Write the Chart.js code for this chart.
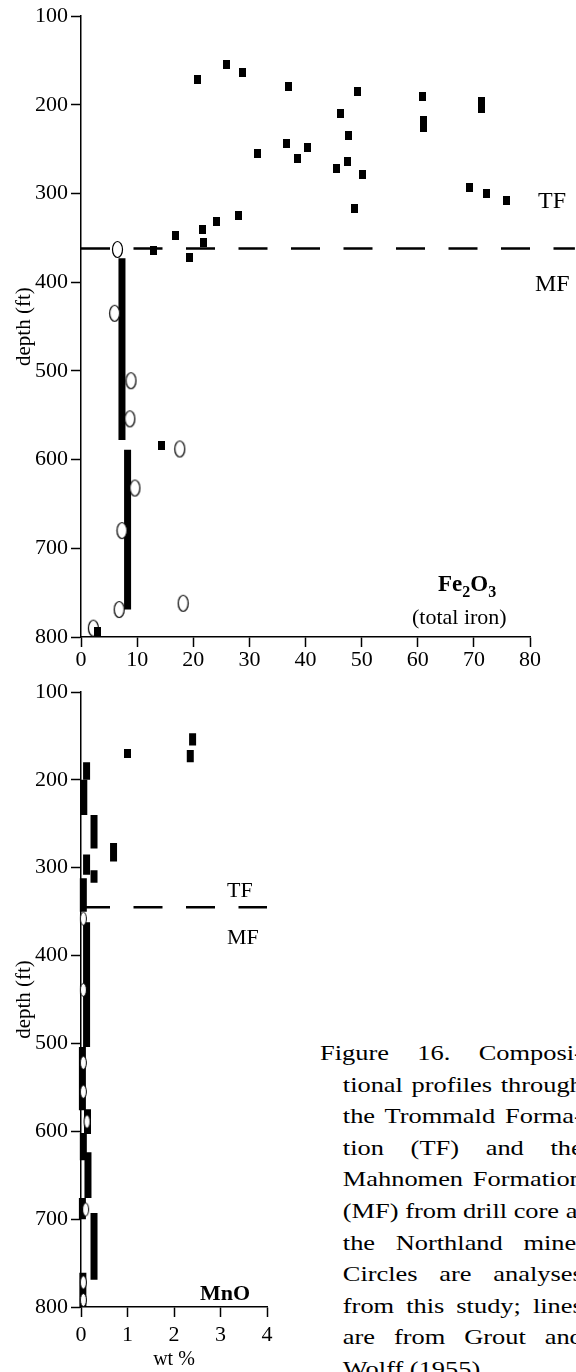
<!DOCTYPE html>
<html>
<head>
<meta charset="utf-8">
<script src="https://cdn.jsdelivr.net/npm/chart.js@4.4.1/dist/chart.umd.min.js"></script>
<style>
  body { margin: 0; background: #fff; width: 576px; height: 1372px; overflow: hidden; position: relative;
         font-family: "Liberation Serif", "Times New Roman", serif; color: #000; }
  canvas { position: absolute; left: 0; }
  #feChart { top: 0; }
  #mnChart { top: 670px; }
  .lbl { position: absolute; white-space: nowrap; line-height: 1; }
  .bold { font-weight: bold; }
  .caption { position: absolute; left: 320px; top: 1037px; width: 219px; font-size: 22px; line-height: 31.6px;
             transform: scaleX(1.2); transform-origin: 0 0; }
  .caption div { padding-left: 19px; text-align: justify; text-align-last: justify; white-space: nowrap; }
  .caption div.first { padding-left: 0; }
  .caption div.last { text-align-last: left; }
</style>
</head>
<body>
<canvas id="feChart" width="576" height="680"></canvas>
<canvas id="mnChart" width="300" height="702"></canvas>

<div class="lbl" style="left:538px; top:188px; font-size:24px;">TF</div>
<div class="lbl" style="left:535px; top:271px; font-size:24px;">MF</div>
<div class="lbl bold" style="left:438px; top:572px; font-size:23px;">Fe<sub style="font-size:16px">2</sub>O<sub style="font-size:16px">3</sub></div>
<div class="lbl" style="left:412px; top:606px; font-size:22px;">(total iron)</div>
<div class="lbl" style="left:227px; top:879px; font-size:22px;">TF</div>
<div class="lbl" style="left:227px; top:926px; font-size:22px;">MF</div>
<div class="lbl bold" style="left:200px; top:1282px; font-size:22px;">MnO</div>

<div class="caption">
  <div class="first">Figure 16. Composi-</div>
  <div>tional profiles through</div>
  <div>the Trommald Forma-</div>
  <div>tion (TF) and the</div>
  <div>Mahnomen Formation</div>
  <div>(MF) from drill core at</div>
  <div>the Northland mine.</div>
  <div>Circles are analyses</div>
  <div>from this study; lines</div>
  <div>are from Grout and</div>
  <div class="last">Wolff (1955).</div>
</div>

<script>
const serif = "'Liberation Serif', 'Times New Roman', serif";

// ---- Fe2O3 panel (wt %, depth in ft) ----
// filled squares
const feSquareFe    = [20.7, 26.0, 28.8, 36.9, 31.5, 36.7, 38.5, 40.4, 49.2, 46.3, 47.6, 47.4, 45.6, 50.1, 48.8,
                       60.8, 61.0, 61.0, 71.3, 71.3, 69.2, 72.2, 75.8, 28.0, 24.2, 21.7, 16.9, 21.9, 13.0, 19.3, 14.4, 2.9];
const feSquareDepth = [171, 155, 163, 179, 255, 243, 261, 248, 185, 210, 234, 264, 272, 278, 317,
                       190, 218, 226, 196, 204, 293, 300, 308, 325, 332, 340, 347, 355, 364, 372, 584, 794];
// open circles (this study)
const feCircleFe    = [6.5, 6.0, 8.9, 8.7, 17.6, 9.6, 7.3, 6.8, 18.2, 2.2];
const feCircleDepth = [363, 435, 511, 554, 588, 632, 680, 769, 762, 790];
// thick lines (Grout and Wolff 1955)
const feLineFe     = [7.3, 8.3];
const feLineTop    = [373, 589];
const feLineBottom = [578, 769];
const feContactDepth = 362;
const feContactEnd = 88;
const feTicksX = [0, 10, 20, 30, 40, 50, 60, 70, 80];

// ---- MnO panel ----
const mnLineMn     = [2.4, 2.35, 1.0, 0.12, 0.06, 0.28, 0.7, 0.12, 0.28, 0.05, 0.12, 0.03, 0.14, 0.05, 0.15, 0.03, 0.28, 0.04];
const mnLineTop    = [147, 166, 165, 180, 200, 240, 272, 285, 303, 312, 362, 504, 575, 602, 624, 676, 693, 761];
const mnLineBottom = [161, 180, 175, 200, 240, 278, 293, 308, 317, 350, 504, 576, 603, 633, 676, 700, 769, 800];
const mnCircleMn    = [0.05, 0.05, 0.05, 0.05, 0.13, 0.1, 0.05, 0.05];
const mnCircleDepth = [358, 439, 522, 555, 589, 689, 772, 792];
const mnContactDepth = 345;
const mnContactEnd = 4;
const mnTicksX = [0, 1, 2, 3, 4];

const depthTicks = [100, 200, 300, 400, 500, 600, 700, 800];

function oval(w, h, lw) {
  const c = document.createElement('canvas');
  c.width = w + 3; c.height = h + 3;
  const g = c.getContext('2d');
  g.beginPath();
  g.ellipse(c.width / 2, c.height / 2, w / 2, h / 2, 0, 0, Math.PI * 2);
  g.fillStyle = '#fff'; g.fill();
  g.lineWidth = lw; g.strokeStyle = '#000'; g.stroke();
  return c;
}
function block(w, h) {
  const c = document.createElement('canvas');
  c.width = w; c.height = h;
  const g = c.getContext('2d');
  g.fillStyle = '#000'; g.fillRect(0, 0, w, h);
  return c;
}

function segments(xs, tops, bottoms, width) {
  return xs.map((x, i) => ({
    type: 'line',
    data: [{ x: x, y: tops[i] }, { x: x, y: bottoms[i] }],
    borderColor: '#000', borderWidth: width, borderCapStyle: 'butt',
    pointRadius: 0, showLine: true, clip: false, order: 2
  }));
}
function contact(depth, end) {
  return {
    type: 'line',
    data: [{ x: 0, y: depth }, { x: end, y: depth }],
    borderColor: '#000', borderWidth: 2.5, borderDash: [29, 23.5],
    pointRadius: 0, showLine: true, clip: false, order: 3
  };
}
function points(xs, ys, style) {
  return {
    type: 'scatter',
    data: xs.map((x, i) => ({ x: x, y: ys[i] })),
    pointStyle: style, pointRadius: 5, clip: false, order: 0
  };
}

function depthAxis(titlePad) {
  return {
    type: 'linear', reverse: true, min: 100, max: 800,
    afterBuildTicks: s => { s.ticks = depthTicks.map(v => ({ value: v })); },
    ticks: { color: '#000', font: { family: serif, size: 22 }, padding: 3 },
    grid: { drawOnChartArea: false, drawTicks: true, tickLength: 10, tickColor: '#000', tickWidth: 1.5 },
    border: { color: '#000', width: 1.5 },
    title: { display: true, text: 'depth (ft)', color: '#000', font: { family: serif, size: 21 },
             padding: { top: titlePad, bottom: 0 } },
    afterFit: s => { s.width = 81; }
  };
}
function valueAxis(max, ticks, height, pad, title) {
  return {
    type: 'linear', min: 0, max: max,
    afterBuildTicks: s => { s.ticks = ticks.map(v => ({ value: v })); },
    ticks: { color: '#000', font: { family: serif, size: 22 }, padding: pad, maxRotation: 0 },
    grid: { drawOnChartArea: false, drawTicks: true, tickLength: 10, tickColor: '#000', tickWidth: 1.5 },
    border: { color: '#000', width: 1.5 },
    title: title ? { display: true, text: title, color: '#000', font: { family: serif, size: 20 }, padding: { top: 0, bottom: 0 } }
                 : { display: false },
    afterFit: s => { s.height = height; }
  };
}

const squareStyle = block(7, 9);
const feOval = oval(10, 16, 1.2);
const mnOval = oval(6, 13, 1.0);

new Chart(document.getElementById('feChart'), {
  type: 'scatter',
  data: {
    datasets: [
      contact(feContactDepth, feContactEnd),
      ...segments(feLineFe, feLineTop, feLineBottom, 7),
      points(feSquareFe, feSquareDepth, squareStyle),
      points(feCircleFe, feCircleDepth, feOval)
    ]
  },
  options: {
    responsive: false, animation: false, events: [],
    layout: { padding: { top: 15, right: 46, left: 0, bottom: 0 } },
    plugins: { legend: { display: false }, tooltip: { enabled: false } },
    scales: {
      x: valueAxis(80, feTicksX, 43, 0, null),
      y: depthAxis(12)
    }
  }
});

new Chart(document.getElementById('mnChart'), {
  type: 'scatter',
  data: {
    datasets: [
      contact(mnContactDepth, mnContactEnd),
      ...segments(mnLineMn, mnLineTop, mnLineBottom, 7),
      points(mnCircleMn, mnCircleDepth, mnOval)
    ]
  },
  options: {
    responsive: false, animation: false, events: [],
    layout: { padding: { top: 22, right: 33, left: 0, bottom: 0 } },
    plugins: { legend: { display: false }, tooltip: { enabled: false } },
    scales: {
      x: valueAxis(4, mnTicksX, 65, 5, 'wt %'),
      y: depthAxis(12)
    }
  }
});
</script>
</body>
</html>
